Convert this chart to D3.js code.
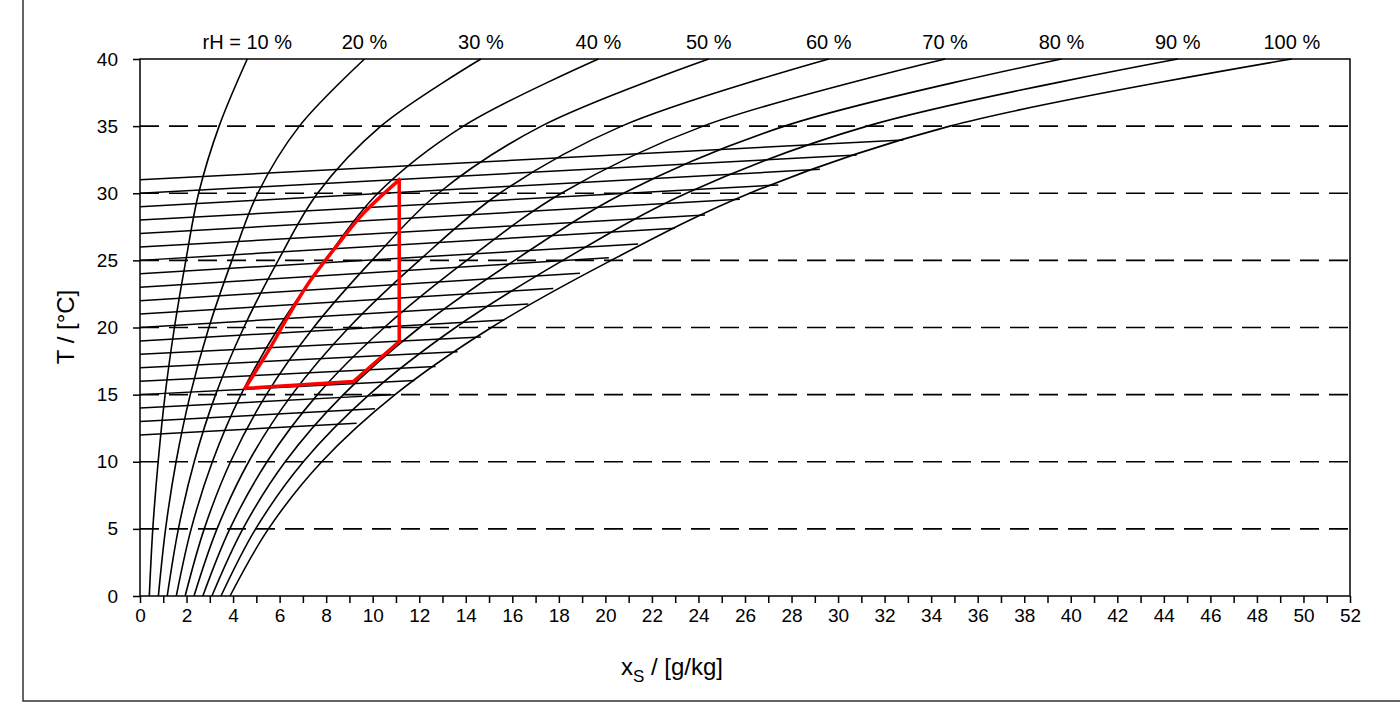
<!DOCTYPE html>
<html>
<head>
<meta charset="utf-8">
<title>rH chart</title>
<script src="https://d3js.org/d3.v7.min.js"></script>
<style>
  body { margin: 0; background: #fff; }
  svg text { font-family: "Liberation Sans", Arial, sans-serif; fill: #000; }
</style>
</head>
<body>
<svg id="chart" width="1400" height="707"></svg>
<script>
const temps = [0, 5, 10, 15, 20, 25, 30, 35, 40];

// humidity ratio x [g/kg] of each rH curve at the temperatures above
const rh10  = [0.40, 0.55, 0.78, 1.08, 1.48, 1.97, 2.52, 3.40, 4.61];
const rh20  = [0.79, 1.10, 1.55, 2.16, 2.96, 3.95, 5.06, 6.85, 9.65];
const rh30  = [1.17, 1.65, 2.33, 3.25, 4.46, 5.94, 7.63, 10.35, 14.65];
const rh40  = [1.56, 2.20, 3.11, 4.34, 5.96, 7.95, 10.22, 13.90, 19.70];
const rh50  = [1.94, 2.76, 3.89, 5.43, 7.46, 9.97, 12.82, 17.25, 24.44];
const rh60  = [2.32, 3.31, 4.67, 6.53, 8.98, 12.00, 15.46, 20.70, 29.60];
const rh70  = [2.70, 3.86, 5.46, 7.63, 10.50, 14.04, 18.11, 24.20, 34.60];
const rh80  = [3.09, 4.42, 6.24, 8.74, 12.02, 16.10, 20.78, 27.70, 39.60];
const rh90  = [3.48, 4.97, 7.02, 9.85, 13.56, 18.17, 23.48, 31.25, 44.60];
const rh100 = [3.87, 5.52, 7.81, 10.96, 15.10, 20.25, 26.20, 34.80, 49.50];
const rhLabels = ["rH = 10 %", "20 %", "30 %", "40 %", "50 %", "60 %", "70 %", "80 %", "90 %", "100 %"];

// sloped lines: start at x = 0 and end on the saturation curve
const lineStartT = [12, 13, 14, 15, 16, 17, 18, 19, 20, 21, 22, 23, 24, 25, 26, 27, 28, 29, 30, 31];
const lineEndX = [9.31, 10.10, 10.95, 11.80, 12.70, 13.65, 14.65, 15.65, 16.69, 17.76,
                  18.91, 20.15, 21.41, 22.99, 24.28, 25.78, 27.43, 29.22, 30.80, 32.80];
const lineEndT = [12.86, 13.95, 15.00, 16.05, 17.10, 18.20, 19.30, 20.55, 21.75, 22.90,
                  24.04, 25.20, 26.22, 27.39, 28.38, 29.55, 30.62, 31.78, 32.85, 33.97];

// red comfort zone: straight edges, then the curved left edge
const zoneEdgeX = [4.51, 9.17, 11.14, 11.14];
const zoneEdgeT = [15.47, 15.97, 18.96, 31.0];
const zoneCurveX = [11.14, 9.60, 8.42, 7.32, 6.42, 5.60, 4.51];
const zoneCurveT = [31.0, 28.5, 26.0, 23.5, 21.0, 18.5, 15.47];

// axes
const xTicks = d3.range(0, 53, 1);
const xTickLabels = [0, 2, 4, 6, 8, 10, 12, 14, 16, 18, 20, 22, 24, 26, 28, 30, 32, 34, 36, 38, 40, 42, 44, 46, 48, 50, 52];
const yTicks = [0, 5, 10, 15, 20, 25, 30, 35, 40];
const gridT = [5, 10, 15, 20, 25, 30, 35];

const svg = d3.select("#chart");
const margin = {top: 59, right: 50, bottom: 111, left: 140};
const width = 1400 - margin.left - margin.right,
      height = 707 - margin.top - margin.bottom;

// outer frame
svg.append("path")
   .attr("d", "M23,-5 L23,701 L1405,701")
   .attr("fill", "none")
   .attr("stroke", "#333")
   .attr("stroke-width", 1.5);

const g = svg.append("g").attr("transform", `translate(${margin.left},${margin.top})`);

const x = d3.scaleLinear().domain([0, 52]).range([0, width]);
const y = d3.scaleLinear().domain([0, 40]).range([height, 0]);

// dashed horizontal grid
g.selectAll(".grid").data(gridT).join("line")
 .attr("x1", 0).attr("x2", width)
 .attr("y1", d => y(d)).attr("y2", d => y(d))
 .attr("stroke", "#000")
 .attr("stroke-width", 1.6)
 .attr("stroke-dasharray", "19,10");

// rH curves
const rhSeries = [rh10, rh20, rh30, rh40, rh50, rh60, rh70, rh80, rh90, rh100];
const curve = d3.line()
  .x(d => x(d[0]))
  .y(d => y(d[1]))
  .curve(d3.curveCatmullRom.alpha(0.5));

rhSeries.forEach(s => {
  g.append("path")
   .datum(s.map((v, i) => [v, temps[i]]))
   .attr("fill", "none")
   .attr("stroke", "#000")
   .attr("stroke-width", 1.6)
   .attr("d", curve);
});

// sloped lines
g.selectAll(".slope").data(lineStartT).join("line")
 .attr("x1", x(0))
 .attr("y1", d => y(d))
 .attr("x2", (d, i) => x(lineEndX[i]))
 .attr("y2", (d, i) => y(lineEndT[i]))
 .attr("stroke", "#000")
 .attr("stroke-width", 1.5);

// red zone
g.append("path")
 .datum(zoneEdgeX.map((v, i) => [v, zoneEdgeT[i]]))
 .attr("fill", "none")
 .attr("stroke", "#ff0000")
 .attr("stroke-width", 3.5)
 .attr("stroke-linejoin", "miter")
 .attr("d", d3.line().x(d => x(d[0])).y(d => y(d[1])));
g.append("path")
 .datum(zoneCurveX.map((v, i) => [v, zoneCurveT[i]]))
 .attr("fill", "none")
 .attr("stroke", "#ff0000")
 .attr("stroke-width", 3.5)
 .attr("stroke-linecap", "square")
 .attr("d", curve);

// plot box
g.append("rect")
 .attr("width", width).attr("height", height)
 .attr("fill", "none")
 .attr("stroke", "#000")
 .attr("stroke-width", 1.5);

// rH labels at the top ends of the curves
g.selectAll(".rhlab").data(rhLabels).join("text")
 .attr("x", (d, i) => x(rhSeries[i][rhSeries[i].length - 1]))
 .attr("y", -10)
 .attr("text-anchor", "middle")
 .attr("font-size", 20)
 .text(d => d);

// axes
const xAxis = g.append("g")
 .attr("transform", `translate(0,${height})`)
 .call(d3.axisBottom(x).tickValues(xTicks).tickSize(7).tickSizeOuter(0).tickPadding(6)
       .tickFormat(d => xTickLabels.includes(d) ? d : ""));
const yAxis = g.append("g")
 .call(d3.axisLeft(y).tickValues(yTicks).tickSize(7).tickSizeOuter(0).tickPadding(15));

[xAxis, yAxis].forEach(a => {
  a.select(".domain").remove();
  a.selectAll("line").attr("stroke", "#000").attr("stroke-width", 1.5);
  a.selectAll("text").attr("font-size", 19).attr("font-family", "Liberation Sans, Arial, sans-serif");
});

// axis titles
svg.append("text")
   .attr("transform", "translate(74,327) rotate(-90)")
   .attr("text-anchor", "middle")
   .attr("font-size", 24)
   .text("T / [°C]");

const xt = svg.append("text")
   .attr("x", 672).attr("y", 675)
   .attr("text-anchor", "middle")
   .attr("font-size", 24);
xt.append("tspan").text("x");
xt.append("tspan").attr("font-size", 17).attr("dy", 7).text("S");
xt.append("tspan").attr("dy", -7).text(" / [g/kg]");
</script>
</body>
</html>
